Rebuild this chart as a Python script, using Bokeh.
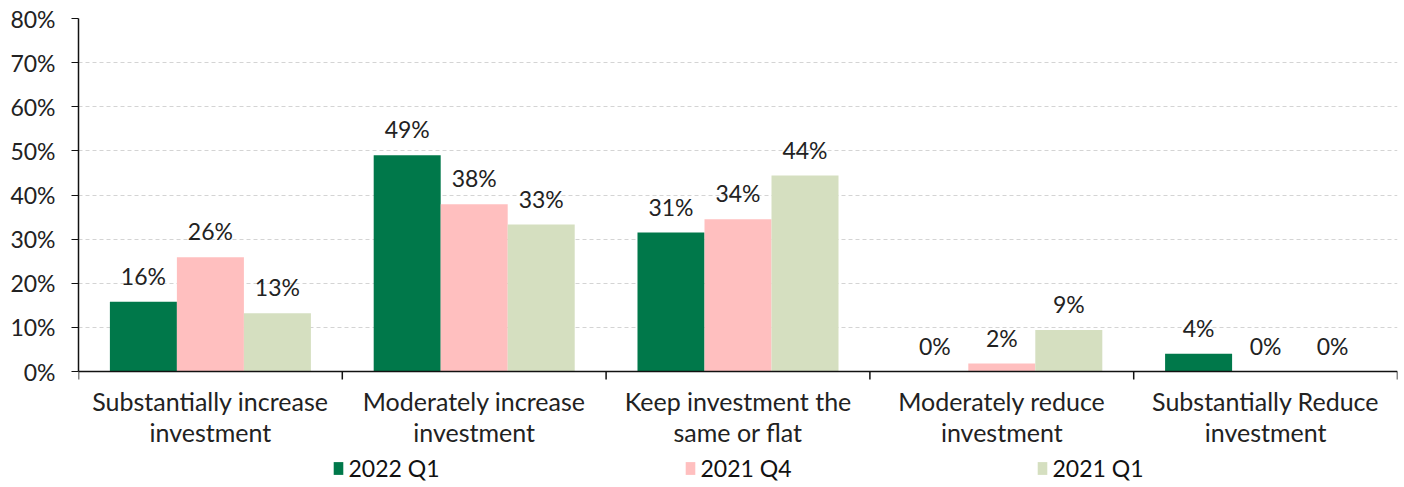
import math
from bokeh.plotting import figure
from bokeh.models import (ColumnDataSource, FixedTicker, Legend, LegendItem,
                          NumeralTickFormatter, Range1d, LabelSet, Span)
from bokeh.core.properties import value
from bokeh.embed import file_html
from bokeh.resources import INLINE

cat_line1 = ["Substantially increase", "Moderately increase", "Keep investment the",
             "Moderately reduce", "Substantially Reduce"]
cat_line2 = ["investment", "investment", "same or flat", "investment", "investment"]
series_names = ["2022 Q1", "2021 Q4", "2021 Q1"]
v_2022q1 = [0.158, 0.49, 0.315, 0.0, 0.04]
v_2021q4 = [0.259, 0.379, 0.345, 0.018, 0.0]
v_2021q1 = [0.132, 0.333, 0.444, 0.094, 0.0]
labels_2022q1 = ["16%", "49%", "31%", "0%", "4%"]
labels_2021q4 = ["26%", "38%", "34%", "2%", "0%"]
labels_2021q1 = ["13%", "33%", "44%", "9%", "0%"]
colors = ["#00784A", "#FFBFBF", "#D5DFC0"]
y_ticks = [0, 0.1, 0.2, 0.3, 0.4, 0.5, 0.6, 0.7, 0.8]

FONT = "Lato"
FS = "23px"
n = len(cat_line1)
centers = [i + 0.5 for i in range(n)]
boundaries = list(range(n + 1))
bw = 0.254
offsets = [-bw, 0.0, bw]

# frame covers plot area plus the label / legend band below it
PLOT_PX = 353
BAND_PX = 113
y_min = -0.8 * BAND_PX / PLOT_PX

p = figure(frame_width=1319, frame_height=PLOT_PX + BAND_PX, output_backend="svg",
           toolbar_location=None, x_axis_location=None,
           x_range=Range1d(0, n), y_range=Range1d(y_min, 0.8),
           min_border_left=78, min_border_right=3, min_border_top=18,
           min_border_bottom=0)
p.outline_line_color = None
p.background_fill_color = "white"

all_vals = [v_2022q1, v_2021q4, v_2021q1]
all_labels = [labels_2022q1, labels_2021q4, labels_2021q1]
renderers = []
for k in range(3):
    xs = [c + offsets[k] for c in centers]
    src = ColumnDataSource(dict(x=xs, top=all_vals[k], lab=all_labels[k]))
    r = p.vbar(x="x", top="top", width=bw, bottom=0, source=src,
               fill_color=colors[k], line_color=None)
    renderers.append(r)
    ls = LabelSet(x="x", y="top", text="lab", source=src, text_align="center",
                  text_baseline="alphabetic", y_offset=17, text_font=value(FONT),
                  text_font_size=value(FS), text_color="#222222")
    p.add_layout(ls)

# y axis
p.yaxis.ticker = FixedTicker(ticks=y_ticks)
p.yaxis.bounds = (0, 0.8)
p.yaxis.formatter = NumeralTickFormatter(format="0%")
p.yaxis.major_label_text_font = FONT
p.yaxis.major_label_text_font_size = FS
p.yaxis.major_label_text_color = "#222222"
p.yaxis.axis_line_color = "#111111"
p.yaxis.axis_line_width = 1.5
p.yaxis.major_tick_line_color = "#111111"
p.yaxis.major_tick_out = 7
p.yaxis.major_tick_in = 0
p.yaxis.minor_tick_line_color = None
p.yaxis.major_label_standoff = 16

p.xgrid.grid_line_color = None
p.ygrid.ticker = FixedTicker(ticks=y_ticks[1:])
p.ygrid.grid_line_color = "#D4D4D4"
p.ygrid.grid_line_dash = "4 3"
p.ygrid.grid_line_width = 1

# category axis: baseline, boundary ticks, two-line labels
p.add_layout(Span(location=0, dimension="width", line_color="#111111",
                  line_width=1.5))
tick_src = ColumnDataSource(dict(x=boundaries, y=[0] * len(boundaries)))
p.ray(x="x", y="y", length=8, length_units="screen", angle=-math.pi / 2,
      line_color="#111111", line_width=1.5, source=tick_src)
cat_src = ColumnDataSource(dict(x=centers, y=[0] * n, l1=cat_line1, l2=cat_line2))
for col, off in (("l1", -29), ("l2", -60)):
    p.add_layout(LabelSet(x="x", y="y", text=col, source=cat_src,
                          text_align="center", text_baseline="middle",
                          y_offset=off, text_font=value(FONT),
                          text_font_size=value("25px"), text_color="#222222"))

legend = Legend(items=[LegendItem(label=series_names[k], renderers=[renderers[k]])
                       for k in range(3)],
                orientation="horizontal", location="bottom_center",
                label_text_font=FONT, label_text_font_size=FS,
                label_text_color="#111111", glyph_width=12, glyph_height=16,
                label_standoff=5, spacing=244, border_line_color=None,
                background_fill_alpha=0, margin=2, padding=0,
                label_height=20)
p.add_layout(legend)

open("out.html", "w").write(file_html(p, INLINE))
